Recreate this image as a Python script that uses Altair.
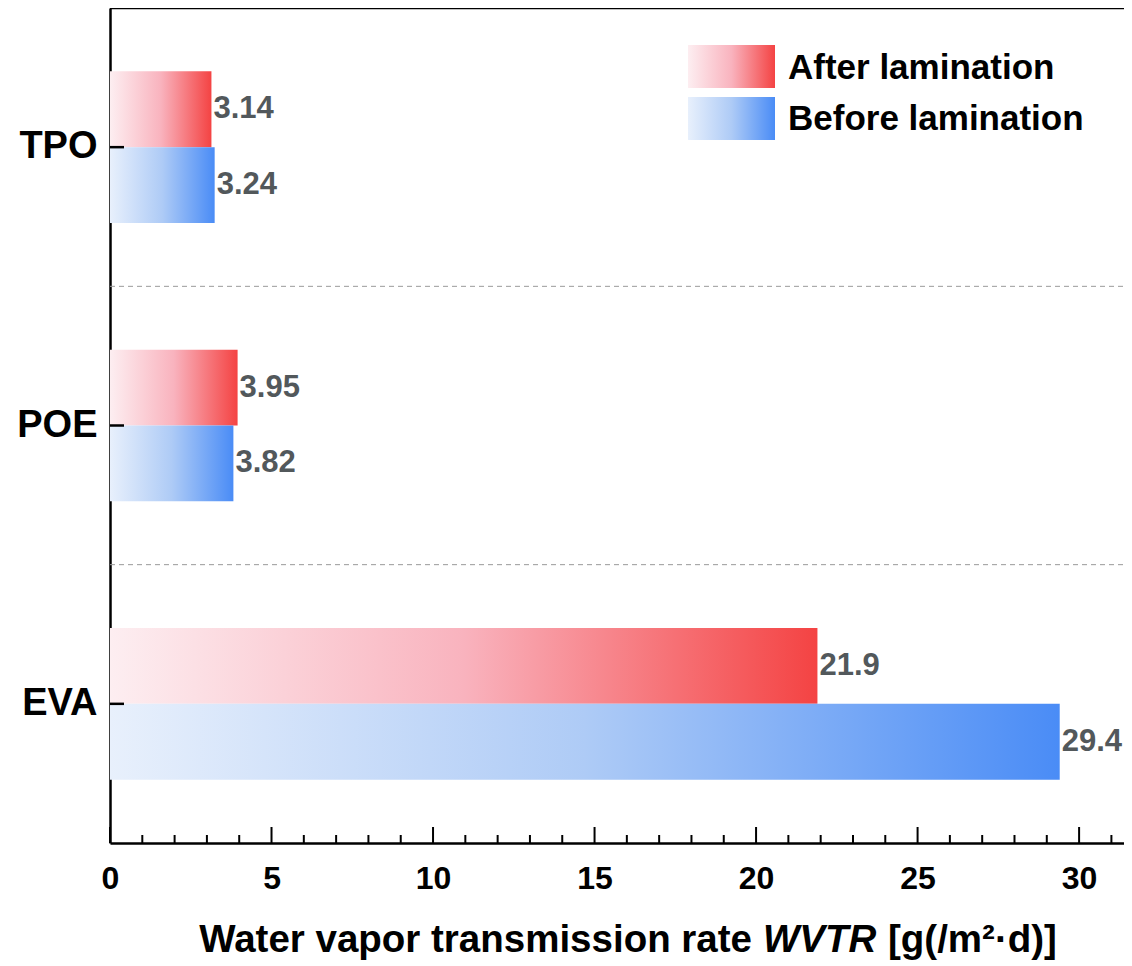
import altair as alt
import pandas as pd

# ---- data ----
categories = ["TPO", "POE", "EVA"]
series_names = ["After lamination", "Before lamination"]
after_values = [3.14, 3.95, 21.9]
before_values = [3.24, 3.82, 29.4]
major_ticks = [0, 5, 10, 15, 20, 25, 30]
minor_ticks = [v for v in range(1, 32) if v % 5 != 0]
separator_cats = ["POE", "EVA"]

rows = []
for c, a, b in zip(categories, after_values, before_values):
    rows.append({"cat": c, "series": series_names[0], "value": a, "label": str(a)})
    rows.append({"cat": c, "series": series_names[1], "value": b, "label": str(b)})
df = pd.DataFrame(rows)

W, H = 1014, 835
FONT = "Liberation Sans"
XMAX = 31.39

red_grad = alt.Gradient(
    gradient="linear", x1=0, x2=1, y1=0, y2=0,
    stops=[alt.GradientStop(color="#fdeef1", offset=0),
           alt.GradientStop(color="#f9b3be", offset=0.5),
           alt.GradientStop(color="#f44343", offset=1)])
blue_grad = alt.Gradient(
    gradient="linear", x1=0, x2=1, y1=0, y2=0,
    stops=[alt.GradientStop(color="#e8f0fc", offset=0),
           alt.GradientStop(color="#aecbf6", offset=0.5),
           alt.GradientStop(color="#4a8cf6", offset=1)])

xscale = alt.Scale(domain=[0, XMAX], nice=False, zero=True)
yscale = alt.Scale(domain=categories, paddingInner=0, paddingOuter=0)
yoscale = alt.Scale(domain=series_names, paddingInner=0, paddingOuter=0.835)

x_axis = alt.Axis(values=major_ticks, ticks=False, labelFontSize=32, labelFontWeight="bold",
                  labelColor="black", labelPadding=20, domainColor="black", domainWidth=2.5,
                  grid=False, title=None, labelFont=FONT, labelFlush=False)
y_axis = alt.Axis(ticks=False, labelFontSize=38, labelFontWeight="bold", labelColor="black",
                  labelPadding=13, domainColor="black", domainWidth=2.5, title=None, grid=False,
                  labelFont=FONT, labelAngle=0)

Y = lambda **kw: alt.Y("cat:N", scale=yscale, axis=y_axis, sort=categories, **kw)
X = lambda f: alt.X(f, scale=xscale, axis=x_axis)
YO = alt.YOffset("series:N", scale=yoscale, sort=series_names)

base = alt.Chart(df)

bars_after = base.transform_filter(alt.datum.series == series_names[0]).mark_bar(
    fill=red_grad, strokeWidth=0).encode(y=Y(), yOffset=YO, x=X("value:Q"))
bars_before = base.transform_filter(alt.datum.series == series_names[1]).mark_bar(
    fill=blue_grad, strokeWidth=0).encode(y=Y(), yOffset=YO, x=X("value:Q"))
labels = base.mark_text(align="left", baseline="middle", dx=2, fontSize=31,
                        fontWeight="bold", color="#52585b", font=FONT).encode(
    y=Y(), yOffset=YO, x=X("value:Q"), text="label:N")

sep = alt.Chart(pd.DataFrame({"cat": separator_cats})).mark_rule(
    color="#9a9a9a", strokeDash=[5, 4], strokeWidth=1).encode(
    y=Y(bandPosition=0), x=alt.value(0), x2=alt.value(W))

yticks = alt.Chart(pd.DataFrame({"cat": categories})).mark_rule(
    color="black", strokeWidth=2.5).encode(
    y=Y(), x=alt.value(0), x2=alt.value(14))

xmajor = alt.Chart(pd.DataFrame({"v": major_ticks})).mark_rule(
    color="black", strokeWidth=2).encode(
    x=X("v:Q"), y=alt.value(H), y2=alt.value(H - 16))
xminor = alt.Chart(pd.DataFrame({"v": minor_ticks})).mark_rule(
    color="black", strokeWidth=2).encode(
    x=X("v:Q"), y=alt.value(H), y2=alt.value(H - 8))

top_border = alt.Chart(pd.DataFrame({"a": [0]})).mark_rule(
    color="black", strokeWidth=2.5).encode(
    x=alt.value(0), x2=alt.value(W), y=alt.value(0))

# legend
leg_df = pd.DataFrame({"series": series_names})
leg_red = alt.Chart(leg_df).transform_filter(alt.datum.series == series_names[0]).mark_rect(
    fill=red_grad).encode(x=alt.value(578), x2=alt.value(665), y=alt.value(37), y2=alt.value(80))
leg_blue = alt.Chart(leg_df).transform_filter(alt.datum.series == series_names[1]).mark_rect(
    fill=blue_grad).encode(x=alt.value(578), x2=alt.value(665), y=alt.value(89), y2=alt.value(132))
leg_t1 = alt.Chart(leg_df).transform_filter(alt.datum.series == series_names[0]).mark_text(
    align="left", baseline="middle", fontSize=35, fontWeight="bold", color="black", font=FONT).encode(
    x=alt.value(678), y=alt.value(60), text="series:N")
leg_t2 = alt.Chart(leg_df).transform_filter(alt.datum.series == series_names[1]).mark_text(
    align="left", baseline="middle", fontSize=35, fontWeight="bold", color="black", font=FONT).encode(
    x=alt.value(678), y=alt.value(111), text="series:N")

# x title with italic WVTR
title_parts = pd.DataFrame({"t": ["Water vapor transmission rate", "WVTR", "[g(/m\u00b2\u00b7d)]"]})
TS = 38.5
tbase = 944
t1 = alt.Chart(title_parts).transform_filter(alt.datum.t == "Water vapor transmission rate").mark_text(
    align="right", baseline="alphabetic", fontSize=TS, fontWeight="bold", font=FONT, color="black").encode(
    x=alt.value(642), y=alt.value(tbase), text="t:N")
t2 = alt.Chart(title_parts).transform_filter(alt.datum.t == "WVTR").mark_text(
    align="left", baseline="alphabetic", fontSize=TS, fontWeight="bold", fontStyle="italic",
    font=FONT, color="black").encode(x=alt.value(653), y=alt.value(tbase), text="t:N")
t3 = alt.Chart(title_parts).transform_filter(alt.datum.t == "[g(/m\u00b2\u00b7d)]").mark_text(
    align="left", baseline="alphabetic", fontSize=TS, fontWeight="bold", font=FONT, color="black").encode(
    x=alt.value(778), y=alt.value(tbase), text="t:N")

chart = alt.layer(
    bars_after, bars_before, labels, sep, yticks, xmajor, xminor, top_border,
    leg_red, leg_blue, leg_t1, leg_t2, t1, t2, t3
).properties(
    width=W, height=H,
    autosize=alt.AutoSizeParams(type="none"),
    padding={"left": 102, "top": 0, "right": 0, "bottom": 122},
).configure_view(stroke=None).configure(background="white")

chart.save("out.html", embed_options={"renderer": "svg", "actions": False})
